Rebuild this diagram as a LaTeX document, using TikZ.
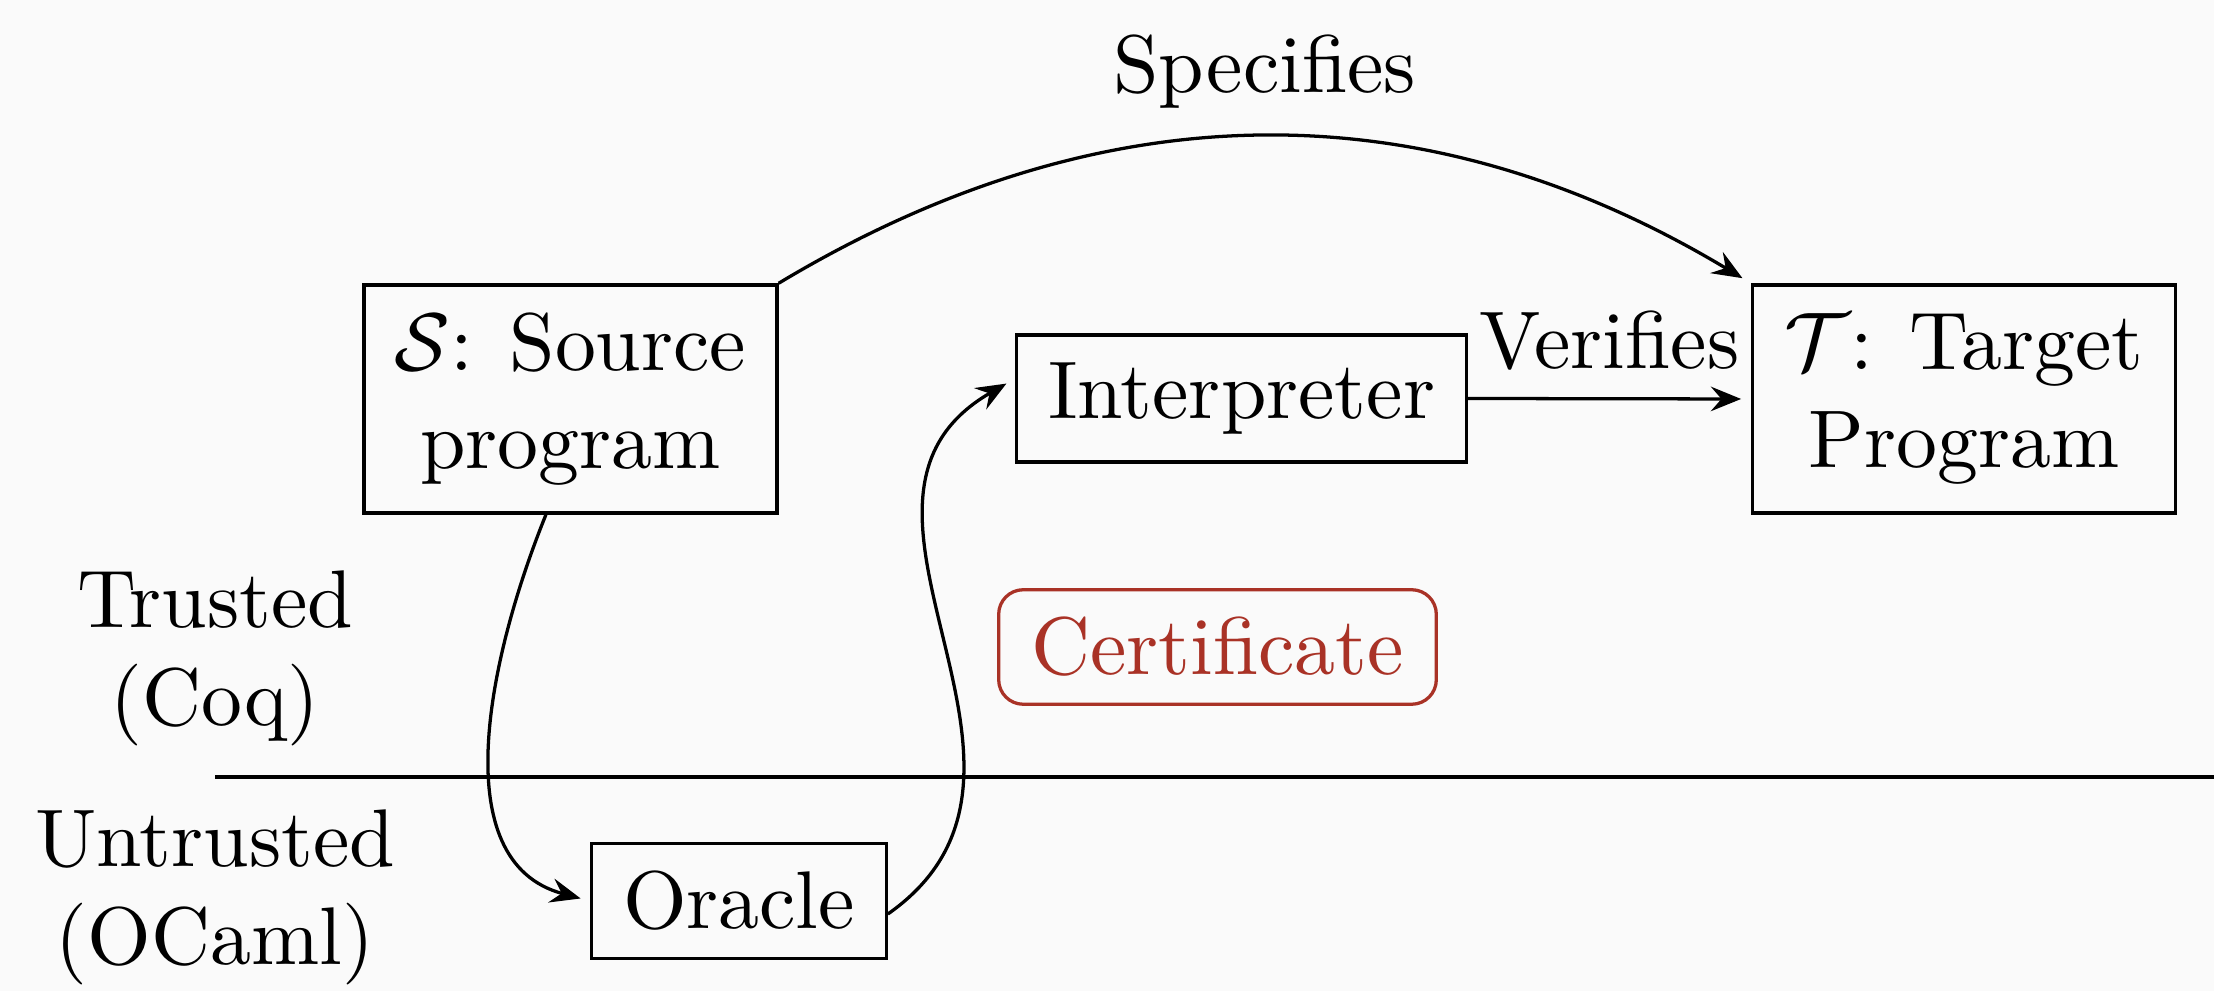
\documentclass[tikz,border=0pt]{standalone}
\usetikzlibrary{arrows.meta}
\definecolor{bgcol}{RGB}{250,250,250}
\definecolor{certred}{RGB}{169,50,38}
\begin{document}
\begin{tikzpicture}[x=0.12225pt,y=0.12225pt,
  box/.style={draw, line width=0.4pt, align=center},
  arr/.style={line width=0.4pt,-{Stealth[length=3.7pt,width=3pt,inset=1.3pt]}, shorten >=1.2pt},
  side/.style={align=center}]
\fill[bgcol] (0,0) rectangle (2214,-991);
\useasboundingbox (0,0) rectangle (2214,-991);
\node[box, minimum width=50.5pt, minimum height=27.9pt] (S) at (570.5,-399) {$\mathcal{S}$: Source\\program};
\node[box, minimum width=51.7pt, minimum height=27.9pt] (T) at (1964,-399) {$\mathcal{T}$: Target\\Program};
\node[box, minimum width=55pt, minimum height=15.5pt] (I) at (1241.5,-398.5) {Interpreter};
\node[box, minimum width=36pt, minimum height=14pt] (O) at (739,-901) {Oracle};
\node[box, draw=certred, text=certred, rounded corners=3pt, minimum width=53.5pt, minimum height=14pt] (C) at (1217.5,-647) {Certificate};
\node[side] (trusted) at (215,-658.5) {Trusted\\(Coq)};
\node[side] (untrusted) at (215,-897.5) {Untrusted\\(OCaml)};
\coordinate (sepL) at (215,-777);
\coordinate (sepR) at (2214,-777);
\draw[line width=0.4pt] (sepL) -- (sepR);
\draw[arr] (S.north east) to[bend left=31] node[above] (spec) {Specifies} (T.north west);
\draw[arr] (I.east) -- node[above] (ver) {Verifies} (T.west);
\draw[arr] (S.258) to[out=-112, in=165] (O.west);
\draw[arr] (O.-5) to[out=35, in=210, looseness=1.16] (I.175);
\end{tikzpicture}
\end{document}
